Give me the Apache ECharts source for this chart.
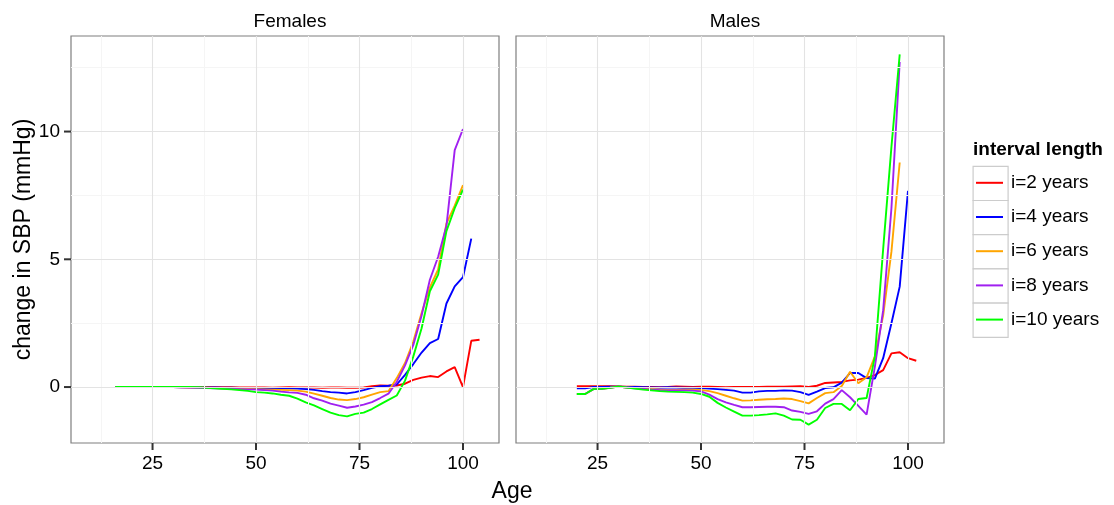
<!DOCTYPE html>
<html>
<head>
<meta charset="utf-8">
<script src="https://cdn.jsdelivr.net/npm/echarts@6/dist/echarts.min.js"></script>
<style>
  html, body { margin: 0; padding: 0; background: #ffffff; }
  #chart { width: 1114px; height: 505px; }
</style>
</head>
<body>
<div id="chart"></div>
<script>
// Age grid (years) for each panel
const femaleAges = [16, 18, 20, 22, 24, 26, 28, 30, 32, 34, 36, 38, 40, 42, 44, 46, 48, 50, 52, 54, 56, 58, 60, 62, 64, 66, 68, 70, 72, 74, 76, 78, 80, 82, 84, 86, 88, 90, 92, 94, 96, 98, 100, 102, 104];
const maleAges = [20, 22, 24, 26, 28, 30, 32, 34, 36, 38, 40, 42, 44, 46, 48, 50, 52, 54, 56, 58, 60, 62, 64, 66, 68, 70, 72, 74, 76, 78, 80, 82, 84, 86, 88, 90, 92, 94, 96, 98, 100, 102];

// Change in SBP (mmHg), females, one array per interval length
const femaleI2 = [0, 0, 0, 0, 0, 0, 0, 0, 0, 0, 0, 0, -0.01, -0.01, -0.01, -0.02, -0.02, -0.02, -0.02, -0.03, -0.02, -0.01, -0.02, -0.02, -0.02, -0.03, -0.02, -0.02, -0.03, -0.03, -0.02, 0.03, 0.06, 0.05, 0.06, 0.13, 0.28, 0.37, 0.43, 0.39, 0.61, 0.78, 0, 1.81, 1.85];
const femaleI4 = [0, 0, 0, 0, 0, 0, 0, 0, -0.01, -0.01, -0.01, -0.02, -0.02, -0.03, -0.03, -0.04, -0.04, -0.04, -0.05, -0.05, -0.05, -0.05, -0.06, -0.08, -0.11, -0.16, -0.2, -0.22, -0.25, -0.2, -0.12, -0.03, 0.03, 0.05, 0.1, 0.48, 0.9, 1.35, 1.72, 1.88, 3.27, 3.94, 4.3, 5.81];
const femaleI6 = [0, 0, 0, 0, 0, 0, 0, 0, -0.01, -0.02, -0.02, -0.03, -0.04, -0.05, -0.06, -0.07, -0.07, -0.08, -0.09, -0.1, -0.11, -0.12, -0.14, -0.18, -0.26, -0.34, -0.43, -0.49, -0.51, -0.47, -0.4, -0.3, -0.2, -0.16, 0.35, 0.94, 1.78, 2.9, 3.9, 4.6, 6.4, 7.1, 7.9];
const femaleI8 = [0, 0, 0, 0, 0, 0, 0, 0, -0.01, -0.02, -0.03, -0.04, -0.05, -0.06, -0.07, -0.08, -0.09, -0.1, -0.12, -0.14, -0.18, -0.21, -0.23, -0.3, -0.44, -0.53, -0.65, -0.73, -0.81, -0.76, -0.69, -0.59, -0.43, -0.26, 0.2, 0.85, 1.65, 2.8, 4.2, 5.1, 6.3, 9.27, 10.1];
const femaleI10 = [0, 0, 0, 0, 0, 0, 0, 0, 0, 0, -0.01, -0.03, -0.05, -0.07, -0.09, -0.12, -0.15, -0.2, -0.22, -0.25, -0.3, -0.34, -0.45, -0.6, -0.72, -0.86, -1.0, -1.1, -1.15, -1.05, -1.0, -0.86, -0.68, -0.5, -0.33, 0.25, 1.2, 2.3, 3.75, 4.4, 6.1, 7.0, 7.73];

// Change in SBP (mmHg), males
const maleI2 = [0.03, 0.03, 0.03, 0.03, 0.03, 0.02, 0.01, 0.01, 0, 0, -0.01, 0, 0.02, 0.01, 0, 0.01, 0.01, 0, -0.01, 0, 0, 0, 0, 0.01, 0.01, 0.01, 0.02, 0.03, 0, 0.05, 0.16, 0.18, 0.2, 0.26, 0.29, 0.36, 0.47, 0.66, 1.32, 1.36, 1.13, 1.03];
const maleI4 = [-0.05, -0.05, 0, 0, 0.01, 0.01, 0, 0, -0.01, -0.02, -0.02, -0.01, -0.02, -0.03, -0.03, -0.04, -0.06, -0.08, -0.11, -0.14, -0.22, -0.22, -0.17, -0.15, -0.15, -0.13, -0.14, -0.2, -0.31, -0.18, -0.04, -0.01, 0.17, 0.55, 0.55, 0.35, 0.33, 1.13, 2.5, 3.93, 7.68];
const maleI6 = [-0.27, -0.27, -0.08, -0.07, -0.03, 0.02, -0.02, -0.04, -0.06, -0.08, -0.1, -0.11, -0.11, -0.1, -0.1, -0.11, -0.16, -0.24, -0.34, -0.44, -0.53, -0.52, -0.5, -0.48, -0.47, -0.45, -0.47, -0.55, -0.64, -0.43, -0.24, -0.2, 0.04, 0.6, 0.15, 0.38, 1.2, 2.8, 5.3, 8.79];
const maleI8 = [-0.27, -0.27, -0.08, -0.07, -0.03, 0.02, -0.02, -0.05, -0.07, -0.1, -0.12, -0.13, -0.13, -0.13, -0.14, -0.17, -0.3, -0.47, -0.6, -0.7, -0.79, -0.79, -0.78, -0.77, -0.77, -0.79, -0.92, -0.97, -1.05, -0.95, -0.65, -0.47, -0.12, -0.4, -0.74, -1.08, 0.8, 3.0, 7.0, 12.72];
const maleI10 = [-0.27, -0.27, -0.08, -0.07, -0.03, 0.02, -0.02, -0.06, -0.1, -0.13, -0.16, -0.18, -0.19, -0.2, -0.22, -0.27, -0.38, -0.62, -0.8, -0.96, -1.12, -1.12, -1.1, -1.07, -1.03, -1.12, -1.27, -1.28, -1.47, -1.28, -0.82, -0.66, -0.66, -0.91, -0.47, -0.43, 1.2, 5.4, 9.4, 13.02];

// Legend labels and line colours
const seriesNames = ['i=2 years', 'i=4 years', 'i=6 years', 'i=8 years', 'i=10 years'];
const seriesColors = ['#FF0000', '#0000FF', '#FFA500', '#A020F0', '#00FF00'];
const panelTitles = ['Females', 'Males'];

// Axis breaks
const xStep = 25;
const yStep = 5;
const xMajor = [25, 50, 75, 100];
const xMinor = [12.5, 37.5, 62.5, 87.5];
const yMajor = [0, 5, 10];
const yMinor = [2.5, 7.5, 12.5];
const xRange = [5.3, 108.7];
const yRange = [-2.19, 13.74];

const FONT = '"Liberation Sans", Helvetica, Arial, sans-serif';
const SMALL = 19;
const LARGE = 23;
const BORDER = '#7F7F7F';
const TICK_COLOR = '#333333';
const TICK_LEN = 7;

const femaleValues = [femaleI2, femaleI4, femaleI6, femaleI8, femaleI10];
const maleValues = [maleI2, maleI4, maleI6, maleI8, maleI10];

function pairs(ages, vals) {
  return vals.map((v, i) => [ages[i], v]);
}

const panelLeft = [71, 516];
const panelTop = 36;
const panelW = 428;
const panelH = 407;

const grids = panelLeft.map(l => ({
  left: l, top: panelTop, width: panelW, height: panelH,
  show: true, backgroundColor: '#FFFFFF', borderColor: BORDER, borderWidth: 1.2
}));

// Break step pinned through min/maxInterval so the labels land on round values
const xAxes = [0, 1].map(g => ({
  type: 'value', gridIndex: g, min: xRange[0], max: xRange[1], position: 'bottom',
  minInterval: xStep, maxInterval: xStep,
  axisLine: { show: false, onZero: false },
  splitLine: { show: false },
  axisTick: { show: false },
  axisLabel: { show: true, showMinLabel: false, showMaxLabel: false, margin: 11, color: '#000000', fontSize: SMALL, fontFamily: FONT }
}));

const yAxes = [0, 1].map(g => ({
  type: 'value', gridIndex: g, min: yRange[0], max: yRange[1], position: 'left',
  minInterval: yStep, maxInterval: yStep,
  axisLine: { show: false, onZero: false },
  splitLine: { show: false },
  axisTick: { show: false },
  axisLabel: { show: g === 0, showMinLabel: false, showMaxLabel: false, margin: 11, color: '#000000', fontSize: SMALL, fontFamily: FONT },
  name: g === 0 ? 'change in SBP (mmHg)' : '',
  nameLocation: 'middle', nameGap: 36, nameRotate: 90,
  nameTextStyle: { fontSize: LARGE, color: '#000000', fontFamily: FONT }
}));

// Panel background grid drawn as mark lines beneath the data
function gridSeries(g) {
  const major = { color: '#E3E3E3', width: 1.1, type: 'solid' };
  const minor = { color: '#F5F5F5', width: 1, type: 'solid' };
  const lines = [];
  xMinor.forEach(v => lines.push({ xAxis: v, lineStyle: minor }));
  yMinor.forEach(v => lines.push({ yAxis: v, lineStyle: minor }));
  xMajor.forEach(v => lines.push({ xAxis: v, lineStyle: major }));
  yMajor.forEach(v => lines.push({ yAxis: v, lineStyle: major }));
  return {
    type: 'line', name: 'grid' + g, xAxisIndex: g, yAxisIndex: g, data: [],
    silent: true, z: 1, animation: false,
    markLine: { silent: true, symbol: ['none', 'none'], symbolSize: 0, label: { show: false }, animation: false, data: lines }
  };
}

// Outward tick marks at the major breaks, placed through the axes' own scales
function tickSeries(g, dir) {
  const data = dir === 'x' ? xMajor.map(v => [v, yRange[0]]) : yMajor.map(v => [xRange[0], v]);
  return {
    type: 'custom', name: 'ticks' + dir + g, xAxisIndex: g, yAxisIndex: g,
    data: data, silent: true, z: 5, clip: false, animation: false,
    renderItem: (params, api) => {
      const p = api.coord([api.value(0), api.value(1)]);
      const shape = dir === 'x'
        ? { x1: p[0], y1: p[1], x2: p[0], y2: p[1] + TICK_LEN }
        : { x1: p[0], y1: p[1], x2: p[0] - TICK_LEN, y2: p[1] };
      return { type: 'line', shape: shape, style: { stroke: TICK_COLOR, lineWidth: 2 } };
    }
  };
}

const series = [gridSeries(0), gridSeries(1), tickSeries(0, 'x'), tickSeries(1, 'x'), tickSeries(0, 'y')];
[[femaleAges, femaleValues, 0], [maleAges, maleValues, 1]].forEach(([ages, vals, g]) => {
  vals.forEach((v, k) => {
    series.push({
      type: 'line', name: seriesNames[k], xAxisIndex: g, yAxisIndex: g,
      data: pairs(ages, v), showSymbol: false, symbol: 'none', z: 3,
      lineStyle: { color: seriesColors[k], width: 1.9 },
      itemStyle: { color: seriesColors[k] },
      animation: false
    });
  });
});

// Legend key boxes
const keyTop = 165.7, keyH = 34.2, keyLeft = 972.5, keyW = 35;
const keyBoxes = seriesNames.map((n, i) => ({
  type: 'rect', left: keyLeft, top: keyTop + i * keyH, silent: true,
  shape: { width: keyW, height: keyH },
  style: { fill: '#FFFFFF', stroke: '#CCCCCC', lineWidth: 1.2 }
}));

const chart = echarts.init(document.getElementById('chart'), null, { renderer: 'canvas' });
chart.setOption({
  animation: false,
  backgroundColor: '#FFFFFF',
  textStyle: { fontFamily: FONT },
  title: [
    { text: panelTitles[0], left: 71 + panelW / 2, top: 7, textAlign: 'center', textStyle: { fontSize: SMALL, fontWeight: 'normal', color: '#000', fontFamily: FONT } },
    { text: panelTitles[1], left: 516 + panelW / 2, top: 7, textAlign: 'center', textStyle: { fontSize: SMALL, fontWeight: 'normal', color: '#000', fontFamily: FONT } },
    { text: 'Age', left: 507, top: 475, textAlign: 'center', textStyle: { fontSize: LARGE, fontWeight: 'normal', color: '#000', fontFamily: FONT } },
    { text: 'interval length', left: 968, top: 135, textStyle: { fontSize: SMALL, fontWeight: 'bold', color: '#000', fontFamily: FONT } }
  ],
  grid: grids,
  xAxis: xAxes,
  yAxis: yAxes,
  legend: {
    data: seriesNames,
    orient: 'vertical', left: 971, top: 167.8,
    itemWidth: 27, itemHeight: 2, itemGap: 14.2, icon: 'rect',
    selectedMode: false,
    textStyle: { fontSize: SMALL, color: '#000', fontFamily: FONT, lineHeight: 20, padding: [0, 0, 0, 3] }
  },
  graphic: keyBoxes,
  series: series
});
</script>
</body>
</html>
